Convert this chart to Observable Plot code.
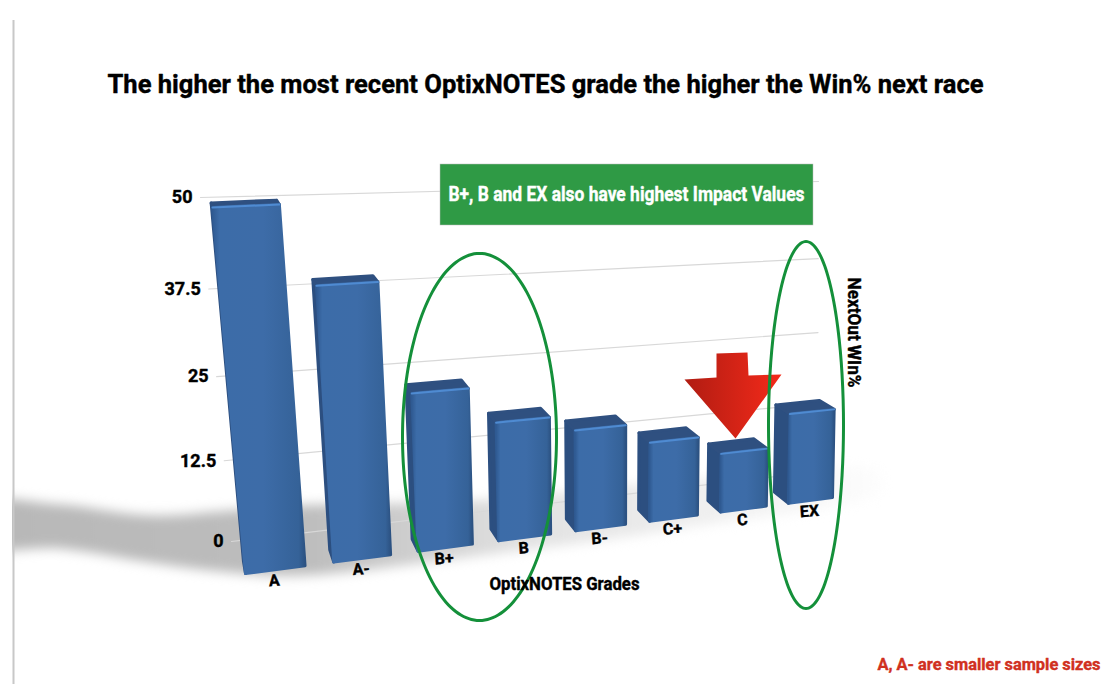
<!DOCTYPE html>
<html><head><meta charset="utf-8">
<style>html,body{margin:0;padding:0;background:#fff}svg{display:block}</style>
<script src="https://cdn.jsdelivr.net/npm/d3@7"></script>
<script src="https://cdn.jsdelivr.net/npm/@observablehq/plot@0.6"></script>
</head><body><div id="chart"></div>
<script>
const grades = ["A","A-","B+","B","B-","C+","C","EX"];
const winPct = [50,38.5,22.4,17.1,14.8,11.8,8.9,13.9];
const yTicks = [0,12.5,25,37.5,50];
const titleText = "The higher the most recent OptixNOTES grade the higher the Win% next race";
const calloutText = "B+, B and EX also have highest Impact Values";
const captionText = "A, A- are smaller sample sizes";
const xTitle = "OptixNOTES Grades";
const yTitle = "NextOut WIn%";

const FONT = "Roboto,'Noto Sans',sans-serif";
const W = 1104, H = 684, yMax = 50;

const lerp=(a,b,t)=>[a[0]+(b[0]-a[0])*t,a[1]+(b[1]-a[1])*t];
const fore=(t,r)=>t*r/(1-t+t*r);            // foreshortening along an edge
const barWidth = 0.67, slots = grades.length-1+barWidth;
// front plane of the bars: floor edge and yMax edge, near end to far end
const onBars=(slot,val)=>{
  const u=slot/slots;
  const floor=lerp([245,573],[832,497],fore(u,1.18));
  const ceil=lerp([212,207],[838,180],fore(u,1.25));
  return lerp(floor,ceil,val/yMax);
};
// back wall carrying the gridlines
const onWall=(u,val)=>{
  const t=fore(val/yMax,0.92);
  return lerp(lerp([231,541],[817,471],u),lerp([200,197],[818,181],u),t);
};
const vanish=[150,0], depthK=0.022;
const deep=p=>[p[0]+(vanish[0]-p[0])*depthK,p[1]+(vanish[1]-p[1])*depthK];

const pts=(id,list)=>list.map(p=>({id,px:p[0],py:p[1]}));
const bars=grades.map((g,i)=>{
  const bl=onBars(i,0),br=onBars(i+barWidth,0),tr=onBars(i+barWidth,winPct[i]),tl=onBars(i,winPct[i]);
  return {g,bl,br,tr,tl};
});
const frontFaces=bars.flatMap(b=>pts(b.g,[b.bl,b.br,b.tr,b.tl]));
const topFaces=bars.flatMap(b=>pts(b.g,[b.tl,b.tr,deep(b.tr),deep(b.tl)]));
const sideFaces=bars.flatMap(b=>pts(b.g,[b.bl,b.tl,deep(b.tl),deep(b.bl)]));
const topEdges=bars.flatMap(b=>pts(b.g,[b.tl,b.tr]));
const gridLines=yTicks.flatMap(t=>pts(t,[onWall(0,t),onWall(1,t)]));
const tickRows=yTicks.map(t=>{const p=onWall(0,t);return {t,px:p[0],py:p[1]};});
const gradeRows=bars.map(b=>({g:b.g,px:(b.bl[0]+b.br[0])/2-1,py:(b.bl[1]+b.br[1])/2+11}));

const ellipse=(id,cx,cy,rx,ry)=>d3.range(0,360,4).map(a=>({id,px:cx+rx*Math.cos(a*Math.PI/180),py:cy+ry*Math.sin(a*Math.PI/180)}));
const ovals=[...ellipse("bb",479,436.5,77,183.5),...ellipse("ex",805.5,424.5,37.5,183.5)];
const arrowShape=pts("arrow",[[716,353],[747,352],[748,375],[781,374],[735,438],[684,379],[716,377]]);
const shadowShape=pts("shadow",[[-30,503],[60,504],[150,515],[230,510],[300,505],[480,500],[700,478],[880,472],[880,490],[700,525],[480,555],[300,575],[230,572],[150,562],[60,548],[-30,545]]);

const blur=px=>(i,s,v,d,c,next)=>{const g=next(i,s,v,d,c);g.style.filter=`blur(${px}px)`;return g;};
const fit=len=>(i,s,v,d,c,next)=>{const g=next(i,s,v,d,c);g.querySelectorAll("text").forEach(t=>{t.setAttribute("textLength",len);t.setAttribute("lengthAdjust","spacingAndGlyphs");});return g;};
const defs=()=>d3.create("svg:defs").html(`
<linearGradient id="barFront" x1="0" x2="1" y1="0" y2="0">
 <stop offset="0" stop-color="#2f5a92"/><stop offset=".08" stop-color="#3c6ca8"/>
 <stop offset=".55" stop-color="#3d6ca8"/><stop offset=".93" stop-color="#356298"/><stop offset="1" stop-color="#2c5282"/>
</linearGradient>
<linearGradient id="arrowFill" x1="0" x2="1" y1="0" y2="0">
 <stop offset="0" stop-color="#b01c12"/><stop offset="1" stop-color="#f42a1a"/>
</linearGradient>
<linearGradient id="shadowFill" gradientUnits="userSpaceOnUse" x1="0" x2="880" y1="0" y2="0">
 <stop offset="0" stop-color="#b8b8b8"/><stop offset=".35" stop-color="#bdbdbd"/>
 <stop offset=".6" stop-color="#e2e2e2"/><stop offset=".85" stop-color="#f2f2f2"/><stop offset="1" stop-color="#fdfdfd"/>
</linearGradient>`).node();

const label=(text,x,y,len,o={})=>Plot.text([text],{x:()=>x,y:()=>y,text:d=>d,fontFamily:FONT,fontWeight:"bold",stroke:"currentColor",strokeWidth:0.4,render:fit(len),...o});

const chart=Plot.plot({
  width:W,height:H,margin:0,
  style:{background:"#fff",color:"#000"},
  x:{axis:null,domain:[0,W],range:[0,W]},
  y:{axis:null,domain:[0,H],range:[0,H]},
  marks:[
    defs,
    Plot.line(shadowShape,{x:"px",y:"py",z:"id",curve:"catmull-rom-closed",fill:"url(#shadowFill)",stroke:"none",render:blur(6)}),
    Plot.rect([0],{x1:()=>0,x2:()=>12,y1:()=>0,y2:()=>H,fill:"#fff"}),
    Plot.ruleX([13],{x:d=>d,y1:()=>20,y2:()=>H,stroke:"#c8c8c8",strokeWidth:2}),
    Plot.line(gridLines,{x:"px",y:"py",z:"id",stroke:"#d8d8d8",strokeWidth:1.2}),
    Plot.line(sideFaces,{x:"px",y:"py",z:"id",curve:"linear-closed",fill:"#2c4f80",stroke:"#2c4f80",strokeWidth:3,strokeLinejoin:"round"}),
    Plot.line(topFaces,{x:"px",y:"py",z:"id",curve:"linear-closed",fill:"#2f5080",stroke:"#2f5080",strokeWidth:3,strokeLinejoin:"round"}),
    Plot.line(frontFaces,{x:"px",y:"py",z:"id",curve:"linear-closed",fill:"url(#barFront)",stroke:"url(#barFront)",strokeWidth:3,strokeLinejoin:"round"}),
    Plot.line(topEdges,{x:"px",y:"py",z:"id",stroke:"#4f8bd2",strokeWidth:2,strokeLinecap:"round"}),
    Plot.text(tickRows,{x:"px",y:"py",text:d=>String(d.t),dx:-8,textAnchor:"end",fontFamily:FONT,fontWeight:"bold",fontSize:18,stroke:"#000",strokeWidth:0.4,fill:"#000"}),
    Plot.text(gradeRows,{x:"px",y:"py",text:"g",fontFamily:FONT,fontWeight:"bold",fontSize:16,stroke:"#000",strokeWidth:0.4,fill:"#000",rotate:-4}),
    Plot.rect([0],{x1:()=>440,x2:()=>813,y1:()=>164,y2:()=>225,fill:"#2f9a45",stroke:"#bbb",strokeWidth:0.5}),
    label(calloutText,626,194,356,{fill:"#fff",stroke:"#fff",fontSize:20}),
    Plot.line(arrowShape,{x:"px",y:"py",z:"id",curve:"linear-closed",fill:"url(#arrowFill)",stroke:"none"}),
    Plot.line(ovals,{x:"px",y:"py",z:"id",curve:"catmull-rom-closed",stroke:"#14903a",strokeWidth:3}),
    label(titleText,107,84,876,{textAnchor:"start",fontSize:26,fill:"#000"}),
    label(xTitle,564,584,150,{fontSize:18,fill:"#000"}),
    label(yTitle,853,332,110,{fontSize:18,fill:"#000",rotate:90}),
    label(captionText,877,664,223,{textAnchor:"start",fontSize:16,fill:"#d03020",stroke:"#d03020"})
  ]
});
document.getElementById("chart").append(chart);
</script></body></html>
